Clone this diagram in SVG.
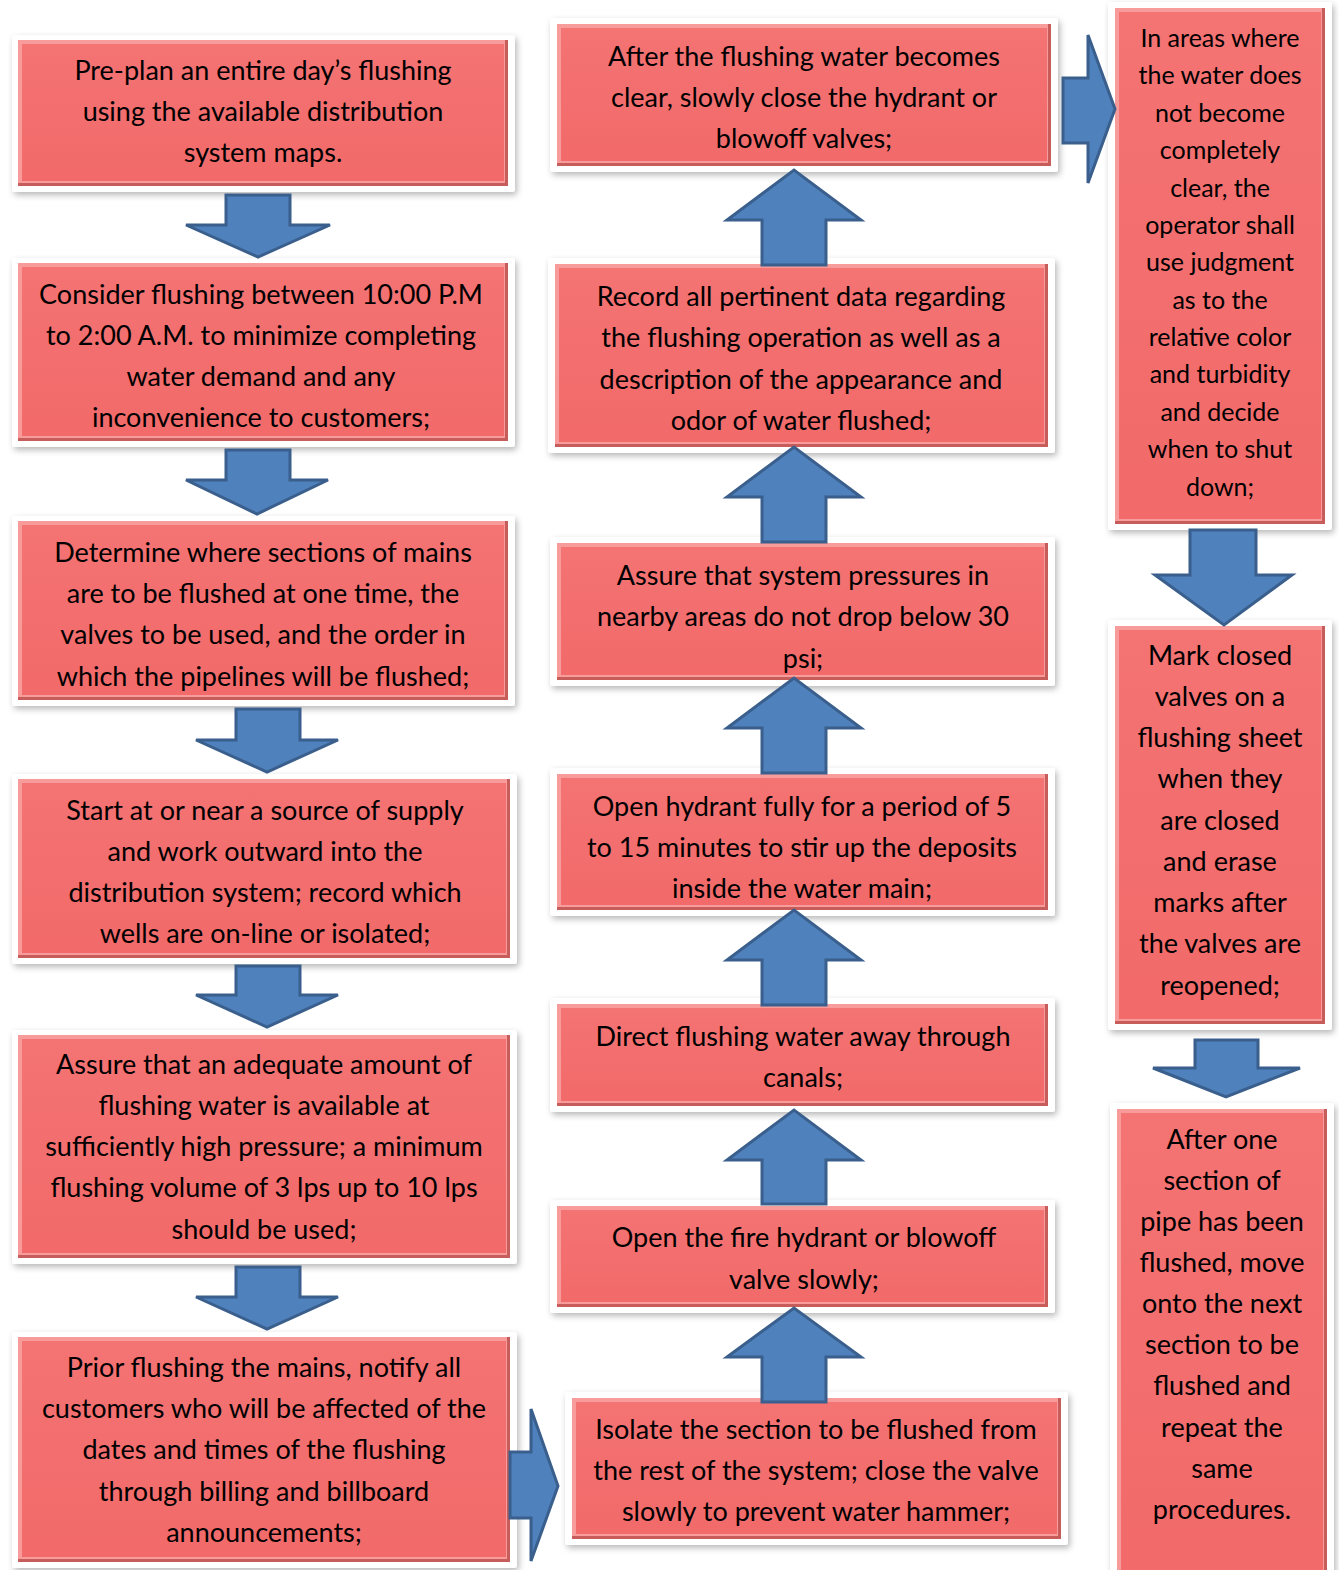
<svg xmlns="http://www.w3.org/2000/svg" width="1339" height="1570" viewBox="0 0 1339 1570">
  <defs>
    <filter id="sh" x="-10%" y="-10%" width="120%" height="120%">
      <feDropShadow dx="2" dy="3" stdDeviation="3" flood-color="#000" flood-opacity="0.28"/>
    </filter>
    <linearGradient id="fc" x1="0" y1="0" x2="0" y2="1">
      <stop offset="0" stop-color="#F47373"/>
      <stop offset="1" stop-color="#F26A6A"/>
    </linearGradient>
  </defs>
  <style>
    .frame { fill: #FFFFFF; filter: url(#sh); }
    .dk { fill: #C75D5B; }
    .lt { fill: #F79C9B; }
    .fc { fill: url(#fc); }
    .t { font-family: Lato, "Open Sans", "Liberation Sans", sans-serif; font-size: 27px; fill: #000; text-anchor: middle; dominant-baseline: central; }
    .s { font-size: 25px; }
    .arr { fill: #4F81BD; stroke: #3A5F8C; stroke-width: 3; stroke-linejoin: miter; }
  </style>

  <!-- left column -->
  <g id="n1">
    <rect class="frame" x="12" y="35" width="503" height="157" rx="3"/>
    <rect class="dk" x="18" y="40" width="490" height="146"/>
    <rect class="lt" x="18" y="40" width="487" height="143"/>
    <rect class="fc" x="22" y="44" width="482" height="137"/>
    <text class="t" x="263" y="69">Pre-plan an entire day’s flushing</text>
    <text class="t" x="263" y="110">using the available distribution</text>
    <text class="t" x="263" y="151">system maps.</text>
  </g>
  <g id="n2">
    <rect class="frame" x="12" y="258" width="503" height="189" rx="3"/>
    <rect class="dk" x="18" y="263" width="490" height="178"/>
    <rect class="lt" x="18" y="263" width="487" height="175"/>
    <rect class="fc" x="22" y="267" width="482" height="169"/>
    <text class="t" x="261" y="293">Consider flushing between 10:00 P.M</text>
    <text class="t" x="261" y="334">to 2:00 A.M. to minimize completing</text>
    <text class="t" x="261" y="375">water demand and any</text>
    <text class="t" x="261" y="416">inconvenience to customers;</text>
  </g>
  <g id="n3">
    <rect class="frame" x="12" y="516" width="503" height="190" rx="3"/>
    <rect class="dk" x="18" y="521" width="490" height="179"/>
    <rect class="lt" x="18" y="521" width="487" height="176"/>
    <rect class="fc" x="22" y="525" width="482" height="170"/>
    <text class="t" x="263" y="551">Determine where sections of mains</text>
    <text class="t" x="263" y="592">are to be flushed at one time, the</text>
    <text class="t" x="263" y="633">valves to be used, and the order in</text>
    <text class="t" x="263" y="675">which the pipelines will be flushed;</text>
  </g>
  <g id="n4">
    <rect class="frame" x="12" y="774" width="505" height="190" rx="3"/>
    <rect class="dk" x="18" y="779" width="492" height="179"/>
    <rect class="lt" x="18" y="779" width="489" height="176"/>
    <rect class="fc" x="22" y="783" width="484" height="170"/>
    <text class="t" x="265" y="809">Start at or near a source of supply</text>
    <text class="t" x="265" y="850">and work outward into the</text>
    <text class="t" x="265" y="891">distribution system; record which</text>
    <text class="t" x="265" y="932">wells are on-line or isolated;</text>
  </g>
  <g id="n5">
    <rect class="frame" x="12" y="1030" width="505" height="234" rx="3"/>
    <rect class="dk" x="18" y="1035" width="492" height="223"/>
    <rect class="lt" x="18" y="1035" width="489" height="220"/>
    <rect class="fc" x="22" y="1039" width="484" height="214"/>
    <text class="t" x="264" y="1063">Assure that an adequate amount of</text>
    <text class="t" x="264" y="1104">flushing water is available at</text>
    <text class="t" x="264" y="1145">sufficiently high pressure; a minimum</text>
    <text class="t" x="264" y="1186">flushing volume of 3 lps up to 10 lps</text>
    <text class="t" x="264" y="1228">should be used;</text>
  </g>
  <g id="n6">
    <rect class="frame" x="12" y="1332" width="505" height="236" rx="3"/>
    <rect class="dk" x="18" y="1337" width="492" height="225"/>
    <rect class="lt" x="18" y="1337" width="489" height="222"/>
    <rect class="fc" x="22" y="1341" width="484" height="216"/>
    <text class="t" x="264" y="1366">Prior flushing the mains, notify all</text>
    <text class="t" x="264" y="1407">customers who will be affected of the</text>
    <text class="t" x="264" y="1448">dates and times of the flushing</text>
    <text class="t" x="264" y="1490">through billing and billboard</text>
    <text class="t" x="264" y="1531">announcements;</text>
  </g>

  <!-- middle column -->
  <g id="n7">
    <rect class="frame" x="550" y="18" width="508" height="154" rx="3"/>
    <rect class="dk" x="557" y="24" width="494" height="142"/>
    <rect class="lt" x="557" y="24" width="491" height="139"/>
    <rect class="fc" x="561" y="28" width="486" height="133"/>
    <text class="t" x="804" y="55">After the flushing water becomes</text>
    <text class="t" x="804" y="96">clear, slowly close the hydrant or</text>
    <text class="t" x="804" y="137">blowoff valves;</text>
  </g>
  <g id="n8">
    <rect class="frame" x="548" y="258" width="507" height="195" rx="3"/>
    <rect class="dk" x="555" y="264" width="493" height="183"/>
    <rect class="lt" x="555" y="264" width="490" height="180"/>
    <rect class="fc" x="559" y="268" width="485" height="174"/>
    <text class="t" x="801" y="295">Record all pertinent data regarding</text>
    <text class="t" x="801" y="336">the flushing operation as well as a</text>
    <text class="t" x="801" y="378">description of the appearance and</text>
    <text class="t" x="801" y="419">odor of water flushed;</text>
  </g>
  <g id="n9">
    <rect class="frame" x="550" y="537" width="505" height="149" rx="3"/>
    <rect class="dk" x="557" y="543" width="491" height="137"/>
    <rect class="lt" x="557" y="543" width="488" height="134"/>
    <rect class="fc" x="561" y="547" width="483" height="128"/>
    <text class="t" x="803" y="574">Assure that system pressures in</text>
    <text class="t" x="803" y="615">nearby areas do not drop below 30</text>
    <text class="t" x="803" y="657">psi;</text>
  </g>
  <g id="n10">
    <rect class="frame" x="550" y="768" width="505" height="148" rx="3"/>
    <rect class="dk" x="557" y="774" width="491" height="136"/>
    <rect class="lt" x="557" y="774" width="488" height="133"/>
    <rect class="fc" x="561" y="778" width="483" height="127"/>
    <text class="t" x="802" y="805">Open hydrant fully for a period of 5</text>
    <text class="t" x="802" y="846">to 15 minutes to stir up the deposits</text>
    <text class="t" x="802" y="887">inside the water main;</text>
  </g>
  <g id="n11">
    <rect class="frame" x="550" y="998" width="505" height="114" rx="3"/>
    <rect class="dk" x="557" y="1004" width="491" height="102"/>
    <rect class="lt" x="557" y="1004" width="488" height="99"/>
    <rect class="fc" x="561" y="1008" width="483" height="93"/>
    <text class="t" x="803" y="1035">Direct flushing water away through</text>
    <text class="t" x="803" y="1076">canals;</text>
  </g>
  <g id="n12">
    <rect class="frame" x="550" y="1200" width="505" height="113" rx="3"/>
    <rect class="dk" x="557" y="1206" width="491" height="101"/>
    <rect class="lt" x="557" y="1206" width="488" height="98"/>
    <rect class="fc" x="561" y="1210" width="483" height="92"/>
    <text class="t" x="804" y="1236">Open the fire hydrant or blowoff</text>
    <text class="t" x="804" y="1278">valve slowly;</text>
  </g>
  <g id="n13">
    <rect class="frame" x="565" y="1392" width="503" height="153" rx="3"/>
    <rect class="dk" x="572" y="1398" width="489" height="141"/>
    <rect class="lt" x="572" y="1398" width="486" height="138"/>
    <rect class="fc" x="576" y="1402" width="481" height="132"/>
    <text class="t" x="816" y="1428">Isolate the section to be flushed from</text>
    <text class="t" x="816" y="1469">the rest of the system; close the valve</text>
    <text class="t" x="816" y="1510">slowly to prevent water hammer;</text>
  </g>

  <!-- right column -->
  <g id="n14">
    <rect class="frame" x="1108" y="2" width="224" height="528" rx="3"/>
    <rect class="dk" x="1115" y="8" width="210" height="516"/>
    <rect class="lt" x="1115" y="8" width="207" height="513"/>
    <rect class="fc" x="1119" y="12" width="202" height="507"/>
    <text class="t s" x="1220" y="37">In areas where</text>
    <text class="t s" x="1220" y="74">the water does</text>
    <text class="t s" x="1220" y="112">not become</text>
    <text class="t s" x="1220" y="149">completely</text>
    <text class="t s" x="1220" y="187">clear, the</text>
    <text class="t s" x="1220" y="224">operator shall</text>
    <text class="t s" x="1220" y="261">use judgment</text>
    <text class="t s" x="1220" y="299">as to the</text>
    <text class="t s" x="1220" y="336">relative color</text>
    <text class="t s" x="1220" y="373">and turbidity</text>
    <text class="t s" x="1220" y="411">and decide</text>
    <text class="t s" x="1220" y="448">when to shut</text>
    <text class="t s" x="1220" y="486">down;</text>
  </g>
  <g id="n15">
    <rect class="frame" x="1108" y="620" width="224" height="410" rx="3"/>
    <rect class="dk" x="1115" y="626" width="210" height="398"/>
    <rect class="lt" x="1115" y="626" width="207" height="395"/>
    <rect class="fc" x="1119" y="630" width="202" height="389"/>
    <text class="t" x="1220" y="654">Mark closed</text>
    <text class="t" x="1220" y="695">valves on a</text>
    <text class="t" x="1220" y="736">flushing sheet</text>
    <text class="t" x="1220" y="777">when they</text>
    <text class="t" x="1220" y="819">are closed</text>
    <text class="t" x="1220" y="860">and erase</text>
    <text class="t" x="1220" y="901">marks after</text>
    <text class="t" x="1220" y="942">the valves are</text>
    <text class="t" x="1220" y="984">reopened;</text>
  </g>
  <g id="n16">
    <rect class="frame" x="1110" y="1103" width="224" height="475" rx="3"/>
    <rect class="dk" x="1117" y="1109" width="210" height="470"/>
    <rect class="lt" x="1117" y="1109" width="207" height="470"/>
    <rect class="fc" x="1121" y="1113" width="202" height="466"/>
    <text class="t" x="1222" y="1138">After one</text>
    <text class="t" x="1222" y="1179">section of</text>
    <text class="t" x="1222" y="1220">pipe has been</text>
    <text class="t" x="1222" y="1261">flushed, move</text>
    <text class="t" x="1222" y="1302">onto the next</text>
    <text class="t" x="1222" y="1343">section to be</text>
    <text class="t" x="1222" y="1384">flushed and</text>
    <text class="t" x="1222" y="1426">repeat the</text>
    <text class="t" x="1222" y="1467">same</text>
    <text class="t" x="1222" y="1508">procedures.</text>
  </g>

  <!-- block arrows between steps -->
  <g id="connectors">
    <!-- left column, downward -->
    <path class="arr" d="M226,195 H290 V225 H330 L258,257 L186,225 H226 Z"/>
    <path class="arr" d="M226,450 H290 V480 H328 L257,514 L186,480 H226 Z"/>
    <path class="arr" d="M236,709 H300 V740 H338 L267,772 L196,740 H236 Z"/>
    <path class="arr" d="M236,966 H300 V995 H338 L267,1027 L196,995 H236 Z"/>
    <path class="arr" d="M236,1267 H300 V1297 H338 L267,1329 L196,1297 H236 Z"/>
    <!-- bottom left to middle -->
    <path class="arr" d="M510,1452 H531 V1409 L558,1486 L531,1561 V1518 H510 Z"/>
    <!-- middle column, upward -->
    <path class="arr" d="M762,1402 V1357 H727 L794,1308 L861,1357 H826 V1402 Z"/>
    <path class="arr" d="M762,1204 V1160 H727 L794,1110 L861,1160 H826 V1204 Z"/>
    <path class="arr" d="M762,1005 V960 H727 L794,910 L861,960 H826 V1005 Z"/>
    <path class="arr" d="M762,773 V728 H727 L794,678 L861,728 H826 V773 Z"/>
    <path class="arr" d="M762,542 V497 H727 L794,447 L861,497 H826 V542 Z"/>
    <path class="arr" d="M762,265 V220 H727 L794,170 L861,220 H826 V265 Z"/>
    <!-- top middle to right -->
    <path class="arr" d="M1063,78 H1088 V35 L1115,109 L1088,183 V143 H1063 Z"/>
    <!-- right column, downward -->
    <path class="arr" d="M1190,530 H1256 V575 H1292 L1224,625 L1155,575 H1190 Z"/>
    <path class="arr" d="M1195,1040 H1258 V1068 H1300 L1226,1097 L1153,1068 H1195 Z"/>
  </g>
</svg>
